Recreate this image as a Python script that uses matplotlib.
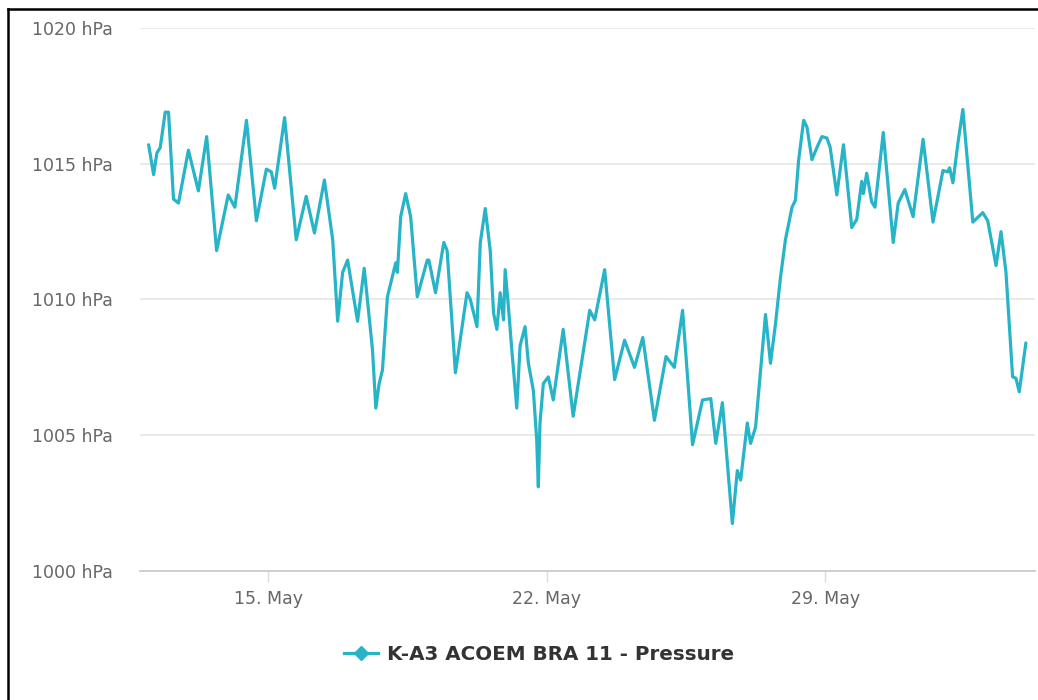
import datetime as dt
import matplotlib
matplotlib.use("Agg")
import matplotlib.pyplot as plt
import matplotlib.dates as mdates
from matplotlib.lines import Line2D

# Hourly pressure trace, sampled at its turning points (hours after start, hPa)
start = dt.datetime(2023, 5, 12, 0, 0)
hours = [
    0, 3, 5, 7, 10, 12, 15, 18, 24, 30, 35, 41, 48, 52, 59, 65, 71, 74, 76, 82,
    89, 95, 100, 106, 111, 114, 117, 120, 126, 130, 135, 137, 139, 141, 144, 149,
    150, 152, 155, 158, 162, 168, 169, 173, 178, 180, 185, 192, 194, 198, 200,
    203, 206, 208, 210, 212, 214, 215, 217, 219, 222, 224, 227, 229, 232, 234,
    235, 236, 238, 241, 244, 250, 256, 266, 269, 275, 281, 287, 293, 298, 305,
    312, 317, 322, 328, 334, 339, 342, 346, 352, 355, 357, 360, 361, 363, 366,
    372, 375, 378, 381, 384, 388, 390, 392, 395, 397, 400, 403, 406, 409, 411,
    415, 419, 424, 427, 430, 431, 433, 436, 438, 443, 449, 452, 456, 461, 467,
    473, 479, 482, 483, 485, 488, 491, 497, 503, 506, 511, 514, 517, 521, 523,
    525, 529,
]
pressure = [
    1015.7, 1014.6, 1015.4, 1015.6, 1016.9, 1016.9, 1013.7, 1013.55, 1015.5,
    1014.0, 1016.0, 1011.8, 1013.85, 1013.4, 1016.6, 1012.9, 1014.8, 1014.7,
    1014.1, 1016.7, 1012.2, 1013.8, 1012.45, 1014.4, 1012.2, 1009.2, 1011.0,
    1011.45, 1009.2, 1011.15, 1008.15, 1006.0, 1006.9, 1007.4, 1010.1, 1011.35,
    1011.0, 1013.05, 1013.9, 1013.05, 1010.1, 1011.45, 1011.45, 1010.25, 1012.1,
    1011.8, 1007.3, 1010.25, 1010.0, 1009.0, 1012.1, 1013.35, 1011.8, 1009.5,
    1008.9, 1010.25, 1009.25, 1011.1, 1009.7, 1008.15, 1006.0, 1008.3, 1009.0,
    1007.65, 1006.65, 1004.85, 1003.1, 1005.45, 1006.9, 1007.15, 1006.3, 1008.9,
    1005.7, 1009.6, 1009.25, 1011.1, 1007.05, 1008.5, 1007.5, 1008.6, 1005.55,
    1007.9, 1007.5, 1009.6, 1004.65, 1006.3, 1006.35, 1004.7, 1006.2, 1001.75,
    1003.7, 1003.35, 1004.95, 1005.45, 1004.7, 1005.3, 1009.45, 1007.65, 1009.1,
    1010.8, 1012.2, 1013.4, 1013.65, 1015.15, 1016.6, 1016.35, 1015.15, 1015.6,
    1016.0, 1015.95, 1015.6, 1013.85, 1015.7, 1012.65, 1012.95, 1014.35, 1013.9,
    1014.65, 1013.6, 1013.4, 1016.15, 1012.1, 1013.55, 1014.05, 1013.05, 1015.9,
    1012.85, 1014.75, 1014.7, 1014.85, 1014.3, 1015.75, 1017.0, 1012.85, 1013.2,
    1012.9, 1011.25, 1012.5, 1011.0, 1007.15, 1007.1, 1006.6, 1008.4,
]
y_ticks = [1000, 1005, 1010, 1015, 1020]
x_tick_days = [dt.datetime(2023, 5, 15), dt.datetime(2023, 5, 22), dt.datetime(2023, 5, 29)]
series_name = "K-A3 ACOEM BRA 11 - Pressure"

times = [start + dt.timedelta(hours=h) for h in hours]

line_color = "#27b4c7"
W, H = 1038, 700
fig = plt.figure(figsize=(W / 100, H / 100), dpi=100)
fig.patch.set_facecolor("white")

ax = fig.add_axes([140 / W, 1 - 571 / H, (1035 - 140) / W, (571 - 28) / H])
ax.plot(times, pressure, color=line_color, lw=2.3, solid_joinstyle="round",
        solid_capstyle="round", label=series_name, zorder=3)

ax.set_ylim(1000, 1020)
ax.set_xlim(start - dt.timedelta(hours=5.2), start + dt.timedelta(hours=534.5))
ax.set_yticks(y_ticks)
ax.set_yticklabels([f"{v} hPa" for v in y_ticks])
ax.set_xticks(x_tick_days)
ax.xaxis.set_major_formatter(mdates.DateFormatter("%-d. %b"))

ax.grid(axis="y", color="#e6e6e6", lw=1.2)
ax.set_axisbelow(True)
for side in ("top", "right", "left"):
    ax.spines[side].set_visible(False)
ax.spines["bottom"].set_color("#cfcfcf")
ax.spines["bottom"].set_linewidth(1.4)

ax.tick_params(axis="y", length=0, pad=19.5, labelsize=12.5, labelcolor="#666666")
ax.tick_params(axis="x", length=8, width=1, color="#d5dbe8", pad=6,
               labelsize=12.5, labelcolor="#666666")

handle = Line2D([], [], color=line_color, lw=2.3, marker="D", markersize=7,
                markeredgecolor=line_color)
leg = fig.legend([handle], [series_name], loc="center",
                 bbox_to_anchor=(539 / W, 1 - 654 / H), frameon=False,
                 handlelength=1.7, handletextpad=0.45,
                 prop={"size": 14.3, "weight": "bold"})
for t in leg.get_texts():
    t.set_color("#333333")

# Frame lines along the left and top edges
fig.add_artist(Line2D([8 / W, 8 / W], [0, 1 - 9 / H], color="black", lw=1.8))
fig.add_artist(Line2D([8 / W, 1], [1 - 9 / H, 1 - 9 / H], color="black", lw=1.8))

fig.savefig("out.png", dpi=100, facecolor="white")
